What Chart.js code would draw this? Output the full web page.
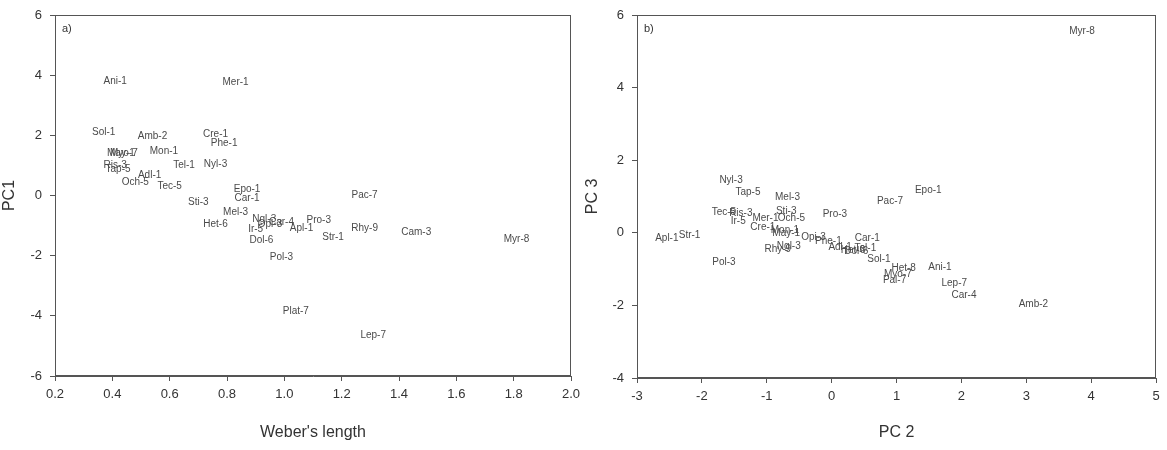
<!DOCTYPE html>
<html>
<head>
<meta charset="utf-8">
<script src="https://cdn.jsdelivr.net/npm/chart.js@4/dist/chart.umd.min.js"></script>
<style>
  body { margin: 0; background: #fff; }
  #wrap { position: relative; width: 1167px; height: 450px; }
  canvas { position: absolute; top: 0; }
</style>
</head>
<body>
<div id="wrap">
  <canvas id="chartA" width="583" height="450" style="left:0"></canvas>
  <canvas id="chartB" width="584" height="450" style="left:583px"></canvas>
</div>
<script>
// panel a: Weber's length vs PC1
const aNames = ["Ani-1", "Mer-1", "Sol-1", "Amb-2", "Cre-1", "Phe-1", "Mon-1", "May-1", "Myo-7",
  "Nyl-3", "Tel-1", "Ris-3", "Tap-5", "Adl-1", "Och-5", "Tec-5", "Epo-1", "Car-1", "Sti-3",
  "Pac-7", "Mel-3", "Het-6", "Ngl-3", "Opi-3", "Car-4", "Ir-5", "Apl-1", "Pro-3", "Dol-6",
  "Pol-3", "Str-1", "Rhy-9", "Cam-3", "Myr-8", "Plat-7", "Lep-7"];
const aWeber = [0.41, 0.83, 0.37, 0.54, 0.76, 0.79, 0.58, 0.43, 0.44,
  0.76, 0.65, 0.41, 0.42, 0.53, 0.48, 0.60, 0.87, 0.87, 0.70,
  1.28, 0.83, 0.76, 0.93, 0.95, 0.99, 0.90, 1.06, 1.12, 0.92,
  0.99, 1.17, 1.28, 1.46, 1.81, 1.04, 1.31];
const aPC1 = [3.80, 3.77, 2.09, 1.96, 2.05, 1.74, 1.46, 1.41, 1.39,
  1.05, 0.99, 1.02, 0.87, 0.66, 0.44, 0.31, 0.22, -0.08, -0.22,
  0.02, -0.57, -0.96, -0.78, -0.97, -0.90, -1.12, -1.08, -0.83, -1.49,
  -2.04, -1.38, -1.08, -1.21, -1.45, -3.85, -4.66];

// panel b: PC 2 vs PC 3
const bNames = ["Myr-8", "Nyl-3", "Tap-5", "Mel-3", "Epo-1", "Pac-7", "Pro-3", "Tec-5", "Ris-3",
  "Ir-5", "Mer-1", "Och-5", "Sti-3", "Cre-1", "Mon-1", "May-1", "Apl-1", "Str-1", "Rhy-9",
  "Ngl-3", "Opi-3", "Phe-1", "Adl-1", "Het-6", "Dol-6", "Tel-1", "Car-1", "Sol-1", "Het-8",
  "Myo-7", "Pal-7", "Ani-1", "Lep-7", "Car-4", "Amb-2", "Pol-3"];
const bPC2 = [3.86, -1.55, -1.29, -0.68, 1.49, 0.90, 0.05, -1.66, -1.40,
  -1.44, -1.02, -0.62, -0.70, -1.06, -0.72, -0.70, -2.54, -2.19, -0.83,
  -0.66, -0.28, -0.05, 0.13, 0.33, 0.38, 0.52, 0.55, 0.73, 1.11,
  1.02, 0.97, 1.67, 1.89, 2.04, 3.11, -1.66];
const bPC3 = [5.54, 1.46, 1.12, 0.98, 1.17, 0.86, 0.52, 0.56, 0.54,
  0.33, 0.40, 0.40, 0.60, 0.15, 0.06, 0.00, -0.15, -0.07, -0.45,
  -0.38, -0.13, -0.24, -0.40, -0.47, -0.51, -0.42, -0.15, -0.74, -0.97,
  -1.15, -1.32, -0.95, -1.39, -1.72, -1.98, -0.82];

const FONT = "'Liberation Sans', Arial, sans-serif";

const pointLabels = {
  id: "pointLabels",
  afterDatasetsDraw(chart) {
    const ctx = chart.ctx;
    const xs = chart.scales.x, ys = chart.scales.y;
    ctx.save();
    ctx.font = "10px " + FONT;
    ctx.fillStyle = "#4a4a4a";
    ctx.textAlign = "center";
    ctx.textBaseline = "middle";
    chart.data.datasets[0].data.forEach(p => {
      ctx.fillText(p.name, xs.getPixelForValue(p.x), ys.getPixelForValue(p.y));
    });
    ctx.restore();
  }
};

const frame = {
  id: "frame",
  afterDraw(chart, args, opts) {
    const a = chart.chartArea, ctx = chart.ctx;
    ctx.save();
    ctx.strokeStyle = "#555";
    ctx.lineWidth = 1;
    ctx.strokeRect(a.left + 0.5, a.top + 0.5, a.right - a.left - 1, a.bottom - a.top - 1);
    ctx.font = "11px " + FONT;
    ctx.fillStyle = "#333";
    ctx.textBaseline = "top";
    ctx.fillText(opts.tag, a.left + 7, a.top + 8);
    ctx.restore();
  }
};

function makeChart(id, names, xs, ys, opt) {
  const pts = names.map((n, i) => ({ x: xs[i], y: ys[i], name: n }));
  return new Chart(document.getElementById(id), {
    type: "scatter",
    data: { datasets: [{ data: pts, pointRadius: 0, pointHoverRadius: 0 }] },
    options: {
      responsive: false,
      animation: false,
      events: [],
      layout: { padding: { top: 15, right: opt.right } },
      plugins: { legend: { display: false }, tooltip: { enabled: false }, frame: { tag: opt.tag } },
      scales: {
        x: {
          min: opt.xMin, max: opt.xMax,
          afterFit: s => { s.height = opt.xH; s.paddingLeft = 0; s.paddingRight = 0; },
          ticks: { stepSize: opt.xStep, color: "#333", font: { size: 13, family: FONT }, padding: 6,
            maxRotation: 0, callback: v => opt.xFmt(v) },
          grid: { drawOnChartArea: false, color: "#555", tickLength: 5 },
          border: { color: "#555" },
          title: { display: true, text: opt.xTitle, color: "#333", font: { size: 16, family: FONT },
            padding: { top: 0, bottom: 8 } }
        },
        y: {
          min: opt.yMin, max: opt.yMax,
          afterFit: s => { s.width = opt.yW; s.paddingTop = 0; s.paddingBottom = 0; },
          ticks: { stepSize: 2, color: "#333", font: { size: 13, family: FONT }, padding: 8 },
          grid: { drawOnChartArea: false, color: "#555", tickLength: 5 },
          border: { color: "#555" },
          title: { display: true, text: opt.yTitle, color: "#333", font: { size: 16, family: FONT },
            padding: { top: 0, bottom: 0 } }
        }
      }
    },
    plugins: [pointLabels, frame]
  });
}

makeChart("chartA", aNames, aWeber, aPC1, {
  tag: "a)", xMin: 0.2, xMax: 2.0, xStep: 0.2, xFmt: v => v.toFixed(1),
  yMin: -6, yMax: 6, xTitle: "Weber's length", yTitle: "PC1",
  yW: 55, xH: 74, right: 12
});

makeChart("chartB", bNames, bPC2, bPC3, {
  tag: "b)", xMin: -3, xMax: 5, xStep: 1, xFmt: v => String(v),
  yMin: -4, yMax: 6, xTitle: "PC 2", yTitle: "PC 3",
  yW: 54, xH: 72, right: 11
});
</script>
</body>
</html>
